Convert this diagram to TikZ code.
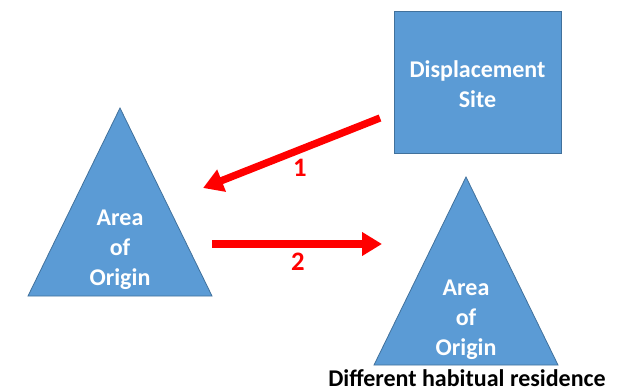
\documentclass[tikz,border=0pt]{standalone}
\usepackage{fontspec}
\setmainfont{Carlito}
\usetikzlibrary{arrows.meta}
\definecolor{boxblue}{HTML}{5B9BD5}
\definecolor{boxedge}{HTML}{41719C}
\definecolor{arrred}{HTML}{FF0000}
\begin{document}
\begin{tikzpicture}[x=0.75pt,y=-0.75pt,
  shapefill/.style={fill=boxblue,draw=boxedge,line width=0.6pt},
  whitetext/.style={text=white,font=\fontsize{18}{22.5}\selectfont\bfseries,align=center,inner sep=0pt},
  redarrow/.style={draw=arrred,line width=5.5pt,-{Triangle[length=15pt,width=17pt]}},
  numlabel/.style={text=arrred,font=\fontsize{20}{22}\selectfont\bfseries,inner sep=0pt},
  caption/.style={text=black,font=\fontsize{18}{20}\selectfont\bfseries,inner sep=0pt}]
\useasboundingbox (0,0) rectangle (630,391);
% left triangle
\draw[shapefill] (120,108) -- (212,296) -- (28,296) -- cycle;
\node[whitetext] (leftarea) at (120,250) {Area\\of\\Origin};
% displacement site
\draw[shapefill] (394,11) rectangle (561,153);
\node[whitetext] (site) at (477.5,84) {Displacement\\Site};
% right triangle
\draw[shapefill] (466,177) -- (558,365) -- (374,365) -- cycle;
\node[whitetext] (rightarea) at (466,320) {Area\\of\\Origin};
\node[caption,anchor=base] (cap) at (467,386) {Different habitual residence};
% arrows
\coordinate (a1s) at (380,118);
\coordinate (a1e) at (203,188);
\coordinate (a2s) at (212,244);
\coordinate (a2e) at (382,244);
\draw[redarrow] (a1s) -- (a1e);
\draw[redarrow] (a2s) -- (a2e);
\node[numlabel] (n1) at (300,168) {1};
\node[numlabel] (n2) at (298,262) {2};
\end{tikzpicture}
\end{document}
